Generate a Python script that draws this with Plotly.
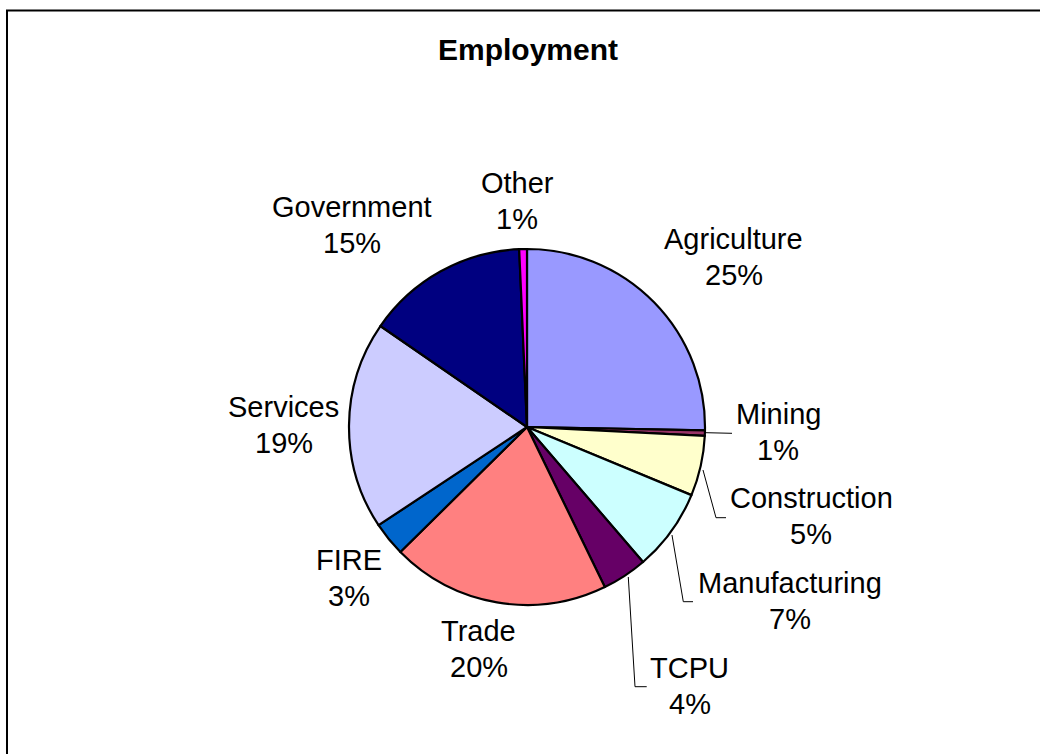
import plotly.graph_objects as go

W, H = 1040, 754

sectors = ["Agriculture", "Mining", "Construction", "Manufacturing", "TCPU",
           "Trade", "FIRE", "Services", "Government", "Other"]
shares = [25.3, 0.5, 5.45, 7.45, 4.1, 19.8, 3.1, 18.9, 14.7, 0.7]
pct_labels = ["25%", "1%", "5%", "7%", "4%", "20%", "3%", "19%", "15%", "1%"]
colors = ["#9999FF", "#993366", "#FFFFCC", "#CCFFFF", "#660066",
          "#FF8080", "#0066CC", "#CCCCFF", "#000080", "#FF00FF"]

# label layout (pixel): center x, baseline of first line
label_pos = {
    "Agriculture": (733.5, 249),
    "Mining": (778, 424),
    "Construction": (811, 508),
    "Manufacturing": (790, 593),
    "TCPU": (689.5, 678),
    "Trade": (478.5, 641),
    "FIRE": (349, 570),
    "Services": (283.5, 417),
    "Government": (352, 217),
    "Other": (517, 193),
}

# leader lines (pixel polylines)
leaders = {
    "Mining": [(706, 432.7), (732, 433.3)],
    "Construction": [(703, 470), (716, 517.7), (726, 517.7)],
    "Manufacturing": [(672, 535), (683.3, 601.7), (693, 601.7)],
    "TCPU": [(628.3, 577), (635, 686.7), (646.7, 686.7)],
}

def px(x):
    return x / W

def py(y):
    return 1 - y / H

cx, cy, r = 527, 427, 178

fig = go.Figure(go.Pie(
    labels=sectors,
    values=shares,
    sort=False,
    direction="clockwise",
    rotation=0,
    marker=dict(colors=colors, line=dict(color="black", width=2.2)),
    textinfo="none",
    hoverinfo="label+percent",
    showlegend=False,
    domain=dict(x=[px(cx - r), px(cx + r)], y=[py(cy + r), py(cy - r)]),
))

FONT = "Arial, Liberation Sans, sans-serif"
FS = 29
annotations = []
annotations.append(dict(
    text="<b>Employment</b>", x=px(527.5), y=py(60 - 10), xref="paper", yref="paper",
    showarrow=False, xanchor="center", yanchor="middle",
    font=dict(family=FONT, size=30, color="black"),
))
for name, pct in zip(sectors, pct_labels):
    lx, lb = label_pos[name]
    for text, base in ((name, lb), (pct, lb + 36)):
        annotations.append(dict(
            text=text, x=px(lx), y=py(base - 10), xref="paper", yref="paper",
            showarrow=False, xanchor="center", yanchor="middle",
            font=dict(family=FONT, size=FS, color="black"),
        ))

frame = [(7, 760), (7, 10.5), (1045, 10.5)]
shapes = [dict(type="path", xref="paper", yref="paper",
               path="M " + " L ".join(f"{px(x):.5f},{py(y):.5f}" for x, y in frame),
               line=dict(color="black", width=2))]
for name, pts in leaders.items():
    path = "M " + " L ".join(f"{px(x):.5f},{py(y):.5f}" for x, y in pts)
    shapes.append(dict(type="path", xref="paper", yref="paper", path=path,
                       line=dict(color="black", width=1)))

fig.update_layout(
    width=W, height=H,
    margin=dict(l=0, r=0, t=0, b=0),
    paper_bgcolor="white",
    plot_bgcolor="white",
    annotations=annotations,
    shapes=shapes,
)

fig.write_html("out.html")
